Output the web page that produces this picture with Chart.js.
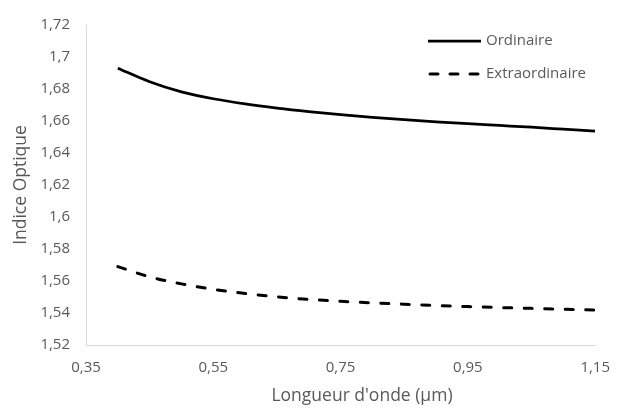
<!DOCTYPE html>
<html>
<head>
<meta charset="utf-8">
<script src="https://cdn.jsdelivr.net/npm/chart.js@4.4.1/dist/chart.umd.min.js"></script>
<style>
  html, body { margin: 0; padding: 0; background: #ffffff; }
  #wrap { width: 624px; height: 407px; }
</style>
</head>
<body>
<div id="wrap"><canvas id="c" width="624" height="407"></canvas></div>
<script>
// Wavelengths (µm)
const wavelengths = [0.40, 0.45, 0.50, 0.55, 0.60, 0.65, 0.70, 0.75, 0.80, 0.85, 0.90, 0.95, 1.00, 1.05, 1.10, 1.15];
// Ordinary index
const ordinaire = [1.6930, 1.6845, 1.6782, 1.6739, 1.6707, 1.6681, 1.6659, 1.6640, 1.6623, 1.6608, 1.6595, 1.6583, 1.6572, 1.6561, 1.6549, 1.6537];
// Extraordinary index
const extraordinaire = [1.5690, 1.5626, 1.5582, 1.5548, 1.5522, 1.5501, 1.5485, 1.5473, 1.5463, 1.5455, 1.5447, 1.5440, 1.5434, 1.5429, 1.5424, 1.5419];
const seriesNames = ["Ordinaire", "Extraordinaire"];
const xTitle = "Longueur d'onde (µm)";
const yTitle = "Indice Optique";

const FONT = "'Open Sans', 'DejaVu Sans', sans-serif";
const TEXT = "#595959";
const AXIS = "#d9d9d9";

function fmt(v) {
  return String(parseFloat(Number(v).toFixed(2))).replace('.', ',');
}
function pts(ys) { return wavelengths.map((x, i) => ({ x: x, y: ys[i] })); }

const legendPlugin = {
  id: 'customLegend',
  afterDraw(chart) {
    const ctx = chart.ctx;
    const rows = [41, 74];
    chart.data.datasets.forEach((ds, i) => {
      const y = rows[i];
      const dashed = ds.borderDash && ds.borderDash.length;
      ctx.save();
      ctx.strokeStyle = ds.borderColor;
      ctx.lineWidth = ds.borderWidth;
      ctx.lineCap = dashed ? 'round' : 'butt';
      ctx.setLineDash(dashed ? [8, 12] : []);
      ctx.beginPath();
      ctx.moveTo(dashed ? 430 : 428, y);
      ctx.lineTo(481, y);
      ctx.stroke();
      ctx.setLineDash([]);
      ctx.fillStyle = TEXT;
      ctx.font = "15px " + FONT;
      ctx.textAlign = 'left';
      ctx.textBaseline = 'middle';
      ctx.fillText(ds.label, 486, y);
      ctx.restore();
    });
  }
};

const xTitlePlugin = {
  id: 'xTitle',
  afterDraw(chart) {
    const ctx = chart.ctx;
    ctx.save();
    ctx.fillStyle = TEXT;
    ctx.font = "17.5px " + FONT;
    ctx.textAlign = 'center';
    ctx.textBaseline = 'middle';
    ctx.fillText(xTitle, 362, 396);
    ctx.restore();
  }
};

new Chart(document.getElementById('c'), {
  type: 'line',
  data: {
    datasets: [
      {
        label: seriesNames[0],
        data: pts(ordinaire),
        borderColor: '#000000',
        borderWidth: 2.75,
        pointRadius: 0,
        cubicInterpolationMode: 'monotone',
        fill: false
      },
      {
        label: seriesNames[1],
        data: pts(extraordinaire),
        borderColor: '#000000',
        borderWidth: 3,
        borderDash: [8, 12.5],
        borderCapStyle: 'round',
        pointRadius: 0,
        cubicInterpolationMode: 'monotone',
        fill: false
      }
    ]
  },
  options: {
    responsive: false,
    animation: false,
    events: [],
    layout: { padding: { top: 22, right: 18, left: 0, bottom: 0 } },
    plugins: {
      legend: { display: false },
      tooltip: { enabled: false }
    },
    scales: {
      x: {
        type: 'linear',
        min: 0.35,
        max: 1.15,
        grid: { display: false, drawTicks: false },
        border: { display: true, color: AXIS, width: 1 },
        ticks: {
          stepSize: 0.2,
          padding: 14,
          color: TEXT,
          font: { family: FONT, size: 15 },
          maxRotation: 0,
          callback: (v) => fmt(v)
        },
        title: { display: false },
        afterFit: (s) => { s.height = 62; }
      },
      y: {
        type: 'linear',
        min: 1.52,
        max: 1.72,
        grid: { display: false, drawTicks: false },
        border: { display: true, color: AXIS, width: 1 },
        ticks: {
          stepSize: 0.02,
          padding: 16,
          color: TEXT,
          font: { family: FONT, size: 15 },
          callback: (v) => fmt(v)
        },
        title: {
          display: true,
          text: yTitle,
          color: TEXT,
          font: { family: FONT, size: 17.5 },
          padding: { top: 11, bottom: 0 }
        },
        afterFit: (s) => { s.width = 86; }
      }
    }
  },
  plugins: [legendPlugin, xTitlePlugin]
});
</script>
</body>
</html>
